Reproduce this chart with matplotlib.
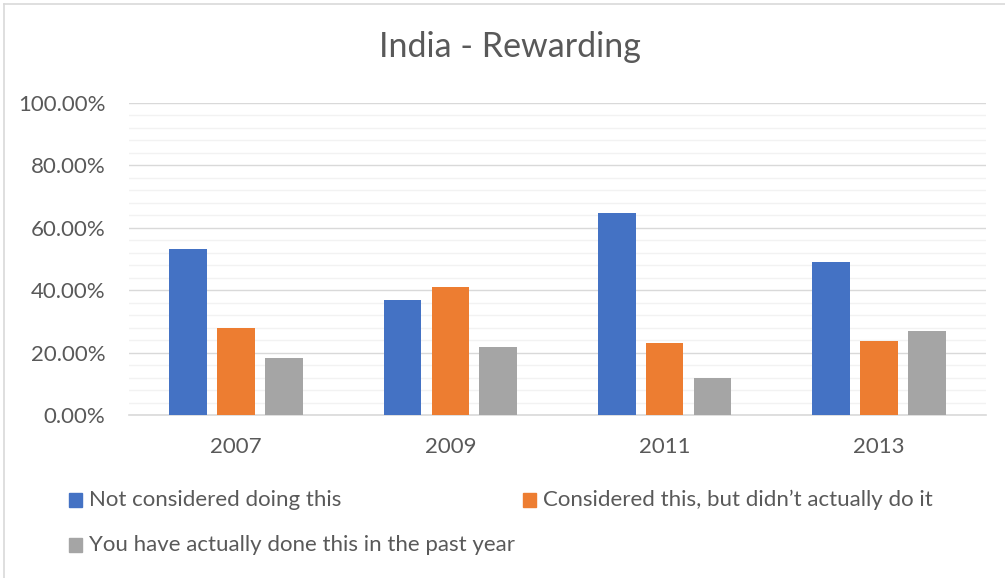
import numpy as np
import matplotlib
matplotlib.use("Agg")
import matplotlib.pyplot as plt
from matplotlib.patches import Rectangle
from matplotlib.lines import Line2D
from matplotlib.ticker import MultipleLocator, PercentFormatter

plt.rcParams['font.family'] = ['Lato', 'DejaVu Sans']

years = ['2007', '2009', '2011', '2013']
series_names = [
    'Not considered doing this',
    "Considered this, but didn\u2019t actually do it",
    'You have actually done this in the past year',
]
not_considered = [53.2, 36.9, 64.7, 48.9]
considered_not_done = [27.9, 40.9, 23.0, 23.7]
done_past_year = [18.3, 21.8, 11.8, 26.8]
colors = ['#4472c4', '#ed7d31', '#a5a5a5']

text_color = '#595959'

fig = plt.figure(figsize=(10.05, 5.78), dpi=100)
W, H = 1005, 578
ax = fig.add_axes([129 / W, 1 - 415 / H, (986 - 129) / W, (415 - 103) / H])

x = np.arange(len(years))
width = 0.176
step = 0.223
all_series = [not_considered, considered_not_done, done_past_year]
for i, (vals, c) in enumerate(zip(all_series, colors)):
    ax.bar(x + (i - 1) * step, vals, width, color=c, zorder=3)

ax.set_xlim(-0.5, len(years) - 0.5)
ax.set_ylim(0, 100)
ax.yaxis.set_major_locator(MultipleLocator(20))
ax.yaxis.set_minor_locator(MultipleLocator(4))
ax.yaxis.set_major_formatter(PercentFormatter(decimals=2))
ax.grid(axis='y', which='major', color='#d9d9d9', linewidth=1.0, zorder=0)
ax.grid(axis='y', which='minor', color='#f2f2f2', linewidth=1.0, zorder=0)

ax.set_xticks(x)
ax.set_xticklabels(years)
ax.tick_params(axis='both', which='both', length=0, labelsize=16, colors=text_color)
ax.tick_params(axis='y', pad=17)
ax.tick_params(axis='x', pad=16)

for side in ['top', 'right', 'left']:
    ax.spines[side].set_visible(False)
ax.spines['bottom'].set_color('#d9d9d9')
ax.spines['bottom'].set_linewidth(1.2)

fig.text(510 / W, 1 - 47 / H, 'India - Rewarding', ha='center', va='center',
         fontsize=24.5, color=text_color)

# legend entries laid out in two rows
legend_spots = [(69, 500), (523, 500), (69, 545)]
for (lx, ly), name, c in zip(legend_spots, series_names, colors):
    fig.patches.append(Rectangle((lx / W, 1 - (ly + 7) / H), 13 / W, 14 / H,
                                 transform=fig.transFigure, color=c))
    fig.text((lx + 20) / W, 1 - ly / H, name, ha='left', va='center',
             fontsize=16, color=text_color)

# chart area border (only the top and left edges fall inside the image)
fig.lines.append(Line2D([4 / W, 4 / W], [0, 1 - 4 / H], transform=fig.transFigure,
                        color='#d9d9d9', linewidth=1.2))
fig.lines.append(Line2D([4 / W, 1], [1 - 4 / H, 1 - 4 / H], transform=fig.transFigure,
                        color='#d9d9d9', linewidth=1.2))

fig.savefig('out.png', dpi=100)
